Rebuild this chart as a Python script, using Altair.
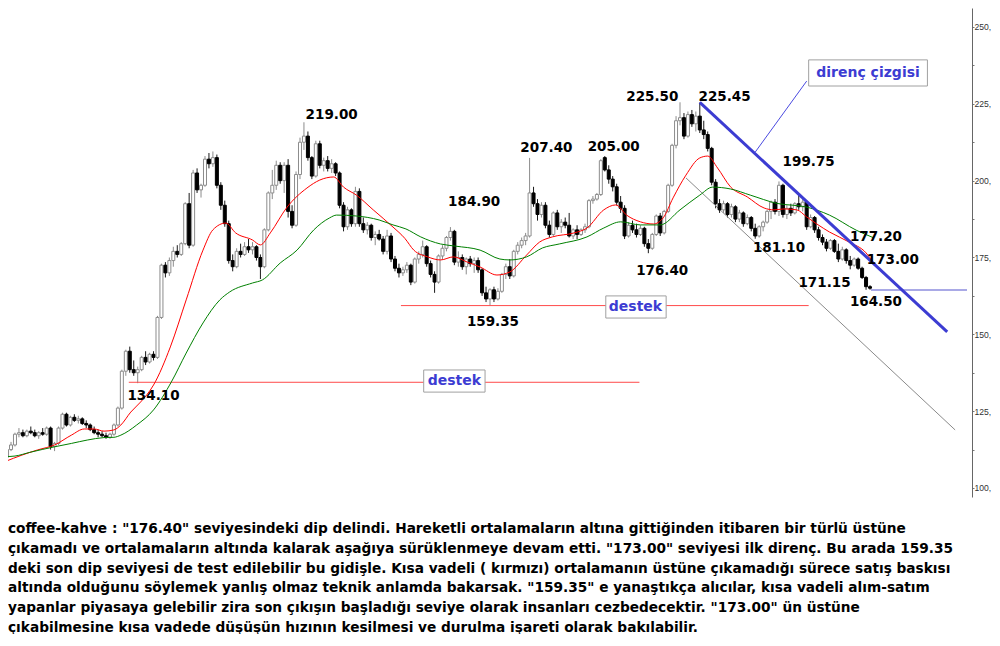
import altair as alt
import pandas as pd

# ---------------- candle data ----------------
opens = [110, 112.5, 114, 117.5, 118, 117, 118.5, 118, 117, 118,
         117.5, 119.5, 113.5, 114.5, 119.5, 124, 120.5, 123, 122, 122.5,
         121, 120.5, 119, 118, 117.5, 117, 116.5, 117.5, 120.5, 126,
         138, 144.5, 138.5, 137.5, 138.5, 142.5, 141, 143.5, 142.5, 155.5,
         172.5, 170, 174, 177, 176, 179.5, 192.5, 179, 202.5, 197,
         198.5, 207, 205.5, 207.5, 198.5, 192, 186, 174, 172, 177,
         176, 178.5, 177.5, 178.5, 175, 172, 184, 196, 198.5, 205,
         200, 205, 190, 185.5, 202, 212.5, 214.5, 207.5, 201.5, 212,
         205, 206.5, 204, 205.5, 202.5, 192, 185, 190.5, 186, 196.5,
         186, 184, 185.5, 181.5, 182.5, 181, 177, 182, 174.5, 171.5,
         170, 171, 172.5, 167, 174.5, 176, 178.5, 173, 169.5, 167,
         175.5, 178, 181.5, 183.5, 173.5, 175, 172, 174.5, 173, 174,
         171, 163.5, 161.5, 164.5, 161.5, 164, 169.5, 172, 169, 177,
         179, 180.5, 182, 196, 192.5, 189, 192, 185.5, 182.5, 189.5,
         185, 186.5, 185.5, 182, 184, 182.5, 184, 185, 193.5, 194,
         195.5, 207.5, 203.5, 200.5, 198, 193, 191, 182, 185.5, 184,
         182.5, 184.5, 179.5, 178, 182.5, 188.5, 183, 190, 198.5, 211.5,
         219.5, 220.5, 214.5, 221.5, 218.5, 221, 216.5, 215, 210.5, 199.5,
         192.5, 190.5, 192.5, 189, 191.5, 187.5, 189.5, 186, 188, 184.5,
         182, 185, 186.5, 190, 193, 190, 198.5, 189, 191, 189.5,
         192.5, 191.5, 193, 185, 188, 184, 181.5, 180, 178, 180.5,
         177, 174.5, 177.5, 174, 172.5, 174.5, 171.5, 168.5, 165.5]
highs = [113, 115, 118, 119.5, 119, 119, 120, 119, 118.5, 119.5,
         120, 120, 115, 120, 124.5, 124.5, 123.5, 124, 123.5, 123,
         122, 121, 120, 119, 118.5, 118, 118, 121, 126.5, 138.5,
         145, 146, 141.5, 139.5, 143, 144.5, 144, 144.5, 156, 173,
         173.5, 175, 178.5, 179, 180, 193, 196, 203.5, 204, 199,
         208, 209, 209.5, 208.5, 199.5, 193.5, 187, 176, 178, 179.5,
         180, 181, 180, 179, 176, 184.5, 196.5, 203.5, 206.5, 206,
         206, 207, 192, 203, 214, 219, 216, 208, 213, 213,
         207.5, 208, 207, 206, 203, 193, 191.5, 191, 198, 197.5,
         188, 186.5, 186, 183.5, 184, 182, 184, 183, 175.5, 173,
         172, 173.5, 173, 175, 177, 180.5, 179, 174, 170.5, 176,
         179, 182, 184.9, 184, 177, 176, 175, 175.5, 175, 175,
         171.5, 165.5, 165, 165.5, 165, 170, 173, 174.5, 177.5, 180,
         181.5, 183, 207.4, 198, 194, 193, 193, 187, 190, 190.5,
         187.5, 188, 189.5, 184.5, 185.5, 184.5, 186, 194, 195, 196,
         207, 208, 205, 201.5, 199, 195, 192, 186.5, 187, 186,
         185.5, 185, 181, 183, 189, 189.5, 190.5, 199, 212, 221,
         225.5, 222, 222.5, 223, 222.5, 225.45, 219.5, 216, 211, 200.5,
         194, 193.5, 193, 192.5, 192, 190.5, 190, 189, 188.5, 186,
         185.5, 187, 190.5, 193.5, 194, 199.75, 199, 192, 192.5, 193,
         195.5, 194, 193.5, 189, 188.5, 185, 182.5, 181, 181, 181,
         179.5, 178.5, 178, 175.5, 175, 175, 172, 169, 166]
lows = [108.5, 112, 113.5, 116.5, 116.5, 116.5, 117.5, 116.5, 116, 117,
        117, 112.5, 112, 114, 119, 120, 120, 121.5, 121, 120.5,
        119.5, 118.5, 117.5, 116.5, 116.5, 116, 116, 117, 120, 125.5,
        136.5, 137.5, 136.5, 134.1, 138, 140, 140.5, 141.5, 142, 155,
        168.5, 169, 172, 175, 175.5, 179, 178, 178.5, 196, 194.5,
        198, 204, 204.5, 197.5, 190.5, 185, 173, 170.5, 171.5, 175,
        175.5, 176.5, 176, 174, 168, 171.5, 183.5, 194, 197, 199,
        196, 188, 184.5, 185, 200.5, 210, 206.5, 200.5, 201, 204,
        203, 203, 202.5, 201.5, 191, 183.5, 184, 185, 185, 185,
        183, 182.5, 180.5, 179, 180.5, 176, 176, 173.5, 170.5, 168.5,
        169, 170, 166, 166.5, 173, 175, 172, 168.5, 163.5, 166.5,
        174.5, 177, 180.5, 172.5, 172, 171, 169.5, 172, 170, 170,
        162.5, 160.5, 159.35, 160.5, 161, 163.5, 168, 168, 168.5, 176,
        178, 179, 181.5, 191.5, 187, 188, 184.5, 181.5, 182, 184,
        183, 184.5, 181.5, 181, 181, 182, 183, 184.5, 192.5, 193.5,
        195, 203, 199, 196.5, 192, 189.5, 181, 181.5, 183, 181.5,
        182, 178.5, 176.4, 177.5, 182, 182, 182.5, 189.5, 198, 210.5,
        218, 213.5, 214, 217.5, 216, 215.5, 213.5, 209.5, 198.5, 191,
        189.5, 189.5, 188, 188, 186.5, 186.5, 185, 185.5, 183.5, 181.1,
        181.5, 183.5, 186, 187.5, 189, 188.5, 188, 187.5, 188.5, 189,
        190.5, 190, 184, 184.5, 183, 180.5, 179, 177, 177.5, 176.5,
        173.5, 174, 173, 171.15, 172, 171, 168, 164.5, 164.5]
closes = [112.5, 114, 117.5, 118, 117, 118.5, 118, 117, 118, 117.5,
          119.5, 113.5, 114.5, 119.5, 124, 120.5, 123, 122, 122.5, 121,
          120.5, 119, 118, 117.5, 117, 116.5, 117.5, 120.5, 126, 138,
          144.5, 138.5, 137.5, 138.5, 142.5, 141, 143.5, 142.5, 155.5, 172.5,
          170, 174, 177, 176, 179.5, 192.5, 179, 202.5, 197, 198.5,
          207, 205.5, 207.5, 198.5, 192, 186, 174, 172, 177, 176,
          178.5, 177.5, 178.5, 175, 172, 184, 196, 198.5, 205, 200,
          205, 190, 185.5, 202, 212.5, 214.5, 207.5, 201.5, 212, 205,
          206.5, 204, 205.5, 202.5, 192, 185, 190.5, 186, 196.5, 186,
          184, 185.5, 181.5, 182.5, 181, 177, 182, 174.5, 171.5, 170,
          171, 172.5, 167, 174.5, 176, 178.5, 173, 169.5, 167, 175.5,
          178, 181.5, 183.5, 173.5, 175, 172, 174.5, 173, 174, 171,
          163.5, 161.5, 164.5, 161.5, 164, 169.5, 172, 169, 177, 179,
          180.5, 182, 196, 192.5, 189, 192, 185.5, 182.5, 189.5, 185,
          186.5, 185.5, 182, 184, 182.5, 184, 185, 193.5, 194, 195.5,
          206.5, 203.5, 200.5, 198, 193, 191, 182, 185.5, 184, 182.5,
          184.5, 179.5, 178, 182.5, 188.5, 183, 190, 198.5, 211.5, 219.5,
          220.5, 214.5, 221.5, 218.5, 221, 216.5, 215, 210.5, 199.5, 192.5,
          190.5, 192.5, 189, 191.5, 187.5, 189.5, 186, 188, 184.5, 182,
          185, 186.5, 190, 193, 190, 198.5, 189, 191, 189.5, 192.5,
          191.5, 193, 185, 188, 184, 181.5, 180, 178, 180.5, 177,
          174.5, 177.5, 174, 172.5, 174.5, 171.5, 168.5, 165.5, 165]

# moving averages as drawn (bar index, value)
red_i = [-0.5, 3.75, 7.75, 12, 16.25, 19.5, 22, 24.5, 27, 28.75,
         31.25, 33.75, 37, 41.25, 45.25, 49.5, 52, 55.25, 57.75, 62,
         64, 66.5, 70.75, 75.75, 79, 82.5, 85, 88.25, 92.5, 97.5,
         100.5, 102.75, 106.25, 109.5, 112.75, 116.25, 119.5, 123.75, 127, 131.25,
         134.5, 137.75, 143.25, 146.5, 150.75, 153.75, 156.5, 160, 163.25, 165.75,
         168.25, 171.5, 175, 177, 179.5, 182.75, 187, 191.25, 193.75, 196.25,
         199.5, 202, 207.75, 212.75, 217, 218.75]
red_v = [108.6, 110.7, 112.4, 114, 117.2, 119.2, 119.2, 118.5, 118.9, 120.5,
         124.7, 128, 133.5, 145.9, 161.2, 177.4, 184, 186.2, 183, 180.7,
         179.1, 183, 191.4, 197.6, 200.2, 201.2, 197.9, 195.3, 190.5, 184.9,
         181.2, 177.4, 175.2, 174.2, 175.2, 173.5, 171.9, 169.3, 170.3, 175.8,
         180, 181.7, 183, 184.6, 190.5, 192.1, 188.8, 186.6, 185.9, 187.9,
         194.4, 201.8, 207.4, 208, 204.1, 198, 194.7, 191.1, 190.5, 190.8,
         190.5, 188.2, 183.3, 180, 176.5, 173.5]
green_i = [-0.5, 2, 5.75, 12, 16.25, 20.25, 24.5, 27, 28.75, 32.75,
           37, 41.5, 45.25, 49.5, 53.75, 56.25, 62, 64.5, 69, 73.25,
           77.5, 81.5, 83.25, 88.25, 94, 97.5, 100.75, 104.5, 109.5, 113.25,
           119.5, 124.5, 127, 131.25, 135.25, 139.5, 146.5, 150.75, 155, 160,
           165, 170, 175, 178.25, 182.75, 187.75, 194.5, 202, 207.75, 214.5,
           218.75]
green_v = [110.2, 110.4, 111.6, 113.4, 114.5, 115.6, 116.4, 116.5, 117.2, 120.5,
           125.4, 134.5, 143.9, 153.7, 161.2, 163.8, 166.7, 167.7, 173.2, 177.4,
           184, 187.9, 188.8, 188.5, 187.2, 185.6, 184.3, 181.7, 179.4, 178.7,
           177.4, 174.5, 174.2, 175.2, 178.1, 179.4, 181.7, 184.6, 186.6, 185.6,
           185.6, 190.5, 195.3, 197.9, 197.3, 195.3, 192.6, 191.4, 188.8, 183.9,
           181.5]

# y axis ticks
tick_values = [100, 112.5, 125, 137.5, 150, 162.5, 175, 187.5, 200, 212.5, 225, 237.5, 250]

# price labels (text, bar index, price)
label_text = ["219.00", "134.10", "184.90", "207.40", "205.00", "159.35", "225.50",
              "225.45", "199.75", "176.40", "181.10", "177.20", "173.00", "171.15", "164.50"]
label_i = [82, 37, 118, 136.25, 153.25, 122.75, 163, 181.25, 202.5, 165.5, 195, 219.5, 223.75, 206.5, 219.5]
label_p = [221.4, 129.9, 193.1, 210.6, 210.8, 154.0, 227.2, 227.2, 206.1, 170.6, 178.1, 181.7, 174.2, 166.7, 160.5]

# boxed notes
box_text = ["direnç çizgisi", "destek", "destek"]
box_i = [217.5, 158.75, 113]
box_p = [235.0, 158.9, 134.8]
box_i1 = [202.5, 151.25, 105.25]
box_i2 = [232.5, 166.5, 120.75]
box_p1 = [239.3, 162.5, 138.4]
box_p2 = [230.8, 155.3, 131.2]

# support levels
support_p = [159.35, 134.4]
support_i1 = [99.5, 30.75]
support_i2 = [202.5, 159.75]

# drawn lines (start index, start price, end index, end price)
resist = [175, 225.45, 237.5, 150.8]
channel = [171.5, 200.9, 239.5, 118.9]
connector = [189, 209.3, 202, 232.4]
last_level = [218.25, 164.45, 242.5, 164.45]

para = [
    'coffee-kahve : "176.40" seviyesindeki dip delindi. Hareketli ortalamaların altına gittiğinden itibaren bir türlü üstüne',
    'çıkamadı ve ortalamaların altında kalarak aşağıya sürüklenmeye devam etti. "173.00" seviyesi ilk direnç. Bu arada 159.35',
    'deki son dip seviyesi de test edilebilir bu gidişle. Kısa vadeli ( kırmızı) ortalamanın üstüne çıkamadığı sürece satış baskısı',
    'altında olduğunu söylemek yanlış olmaz teknik anlamda bakarsak. "159.35" e yanaştıkça alıcılar, kısa vadeli alım-satım',
    'yapanlar piyasaya gelebilir zira son çıkışın başladığı seviye olarak insanları cezbedecektir. "173.00" ün üstüne',
    'çıkabilmesine kısa vadede düşüşün hızının kesilmesi ve durulma işareti olarak bakılabilir.',
]

# ---------------- build ----------------
df = pd.DataFrame({"i": list(range(len(closes))), "o": opens, "h": highs, "l": lows, "c": closes})

xs = alt.Scale(domain=[1.5, 242.5], nice=False, zero=False)
ys = alt.Scale(domain=[97.07, 256.18], nice=False, zero=False)
yaxis = alt.Axis(orient="right", values=tick_values, grid=False, title=None,
                 labelExpr="datum.value % 25 == 0 ? datum.value + ',' : ''",
                 tickSize=2, tickColor="#777777", domainColor="#666666",
                 labelFont="Liberation Sans", labelFontSize=8.6, labelColor="#333333",
                 labelPadding=0)


def X(f):
    return alt.X(f, type="quantitative", scale=xs, axis=None)


def Y(f):
    return alt.Y(f, type="quantitative", scale=ys, axis=yaxis)


up = "datum.c >= datum.o"
base = alt.Chart(df)

wicks = base.mark_rule(strokeWidth=1, clip=True).encode(
    x=X("i"), y=Y("l"), y2="h:Q",
    color=alt.condition(up, alt.value("#8c8c8c"), alt.value("#1a1a1a")))

bodies = base.mark_bar(size=3, strokeWidth=1, clip=True).encode(
    x=X("i"), y=Y("o"), y2="c:Q",
    fill=alt.condition(up, alt.value("#ffffff"), alt.value("#000000")),
    stroke=alt.condition(up, alt.value("#8c8c8c"), alt.value("#000000")))

red_df = pd.DataFrame({"i": red_i, "v": red_v})
green_df = pd.DataFrame({"i": green_i, "v": green_v})
red = alt.Chart(red_df).mark_line(color="#ff0000", strokeWidth=1, clip=True,
                                   interpolate="monotone").encode(x=X("i"), y=Y("v"))
green = alt.Chart(green_df).mark_line(color="#008000", strokeWidth=1, clip=True,
                                       interpolate="monotone").encode(x=X("i"), y=Y("v"))

sup_df = pd.DataFrame({"i1": support_i1, "i2": support_i2, "p": support_p})
supports = alt.Chart(sup_df).mark_rule(color="#ff4a4a", strokeWidth=1, clip=True).encode(
    x=X("i1"), x2="i2:Q", y=Y("p"))


def seg(vals, color, width):
    d = pd.DataFrame({"a": [vals[0]], "b": [vals[1]], "c2": [vals[2]], "d": [vals[3]]})
    return alt.Chart(d).mark_rule(color=color, strokeWidth=width, clip=True).encode(
        x=X("a"), y=Y("b"), x2="c2:Q", y2="d:Q")


chan = seg(channel, "#8a8a8a", 1)
lvl = seg(last_level, "#a9a9e6", 2)
res = seg(resist, "#3c3cd2", 3)
conn = seg(connector, "#4a4ae0", 1)

box_df = pd.DataFrame({"t": box_text, "i": box_i, "p": box_p, "i1": box_i1, "i2": box_i2,
                       "p1": box_p1, "p2": box_p2})
boxes = alt.Chart(box_df).mark_rect(fill="#ffffff", stroke="#a0a0a0", strokeWidth=1).encode(
    x=X("i1"), x2="i2:Q", y=Y("p1"), y2="p2:Q")
box_txt = alt.Chart(box_df).mark_text(font="DejaVu Sans", fontWeight="bold", fontSize=14,
                                      color="#3c3cd2", align="center", baseline="middle").encode(
    x=X("i"), y=Y("p"), text="t:N")

lab_df = pd.DataFrame({"t": label_text, "i": label_i, "p": label_p})
labels = alt.Chart(lab_df).mark_text(font="DejaVu Sans", fontWeight="bold", fontSize=13.5,
                                     color="#000000", align="center", baseline="middle").encode(
    x=X("i"), y=Y("p"), text="t:N")

chart = alt.layer(
    wicks, supports, chan, bodies, red, green, lvl, res, conn, boxes, box_txt, labels
).properties(
    width=964, height=489,
    padding={"left": 0, "top": 0, "right": 20, "bottom": 137},
    autosize=alt.AutoSizeParams(type="none"),
    title=alt.TitleParams(text=para, orient="bottom", anchor="start", frame="group",
                          font="DejaVu Sans", fontSize=13.7, fontWeight="bold", color="#000000",
                          lineHeight=19.8, offset=25, baseline="top"),
).configure_view(stroke=None)

chart.save("out.html", embed_options={"renderer": "svg", "actions": False})
